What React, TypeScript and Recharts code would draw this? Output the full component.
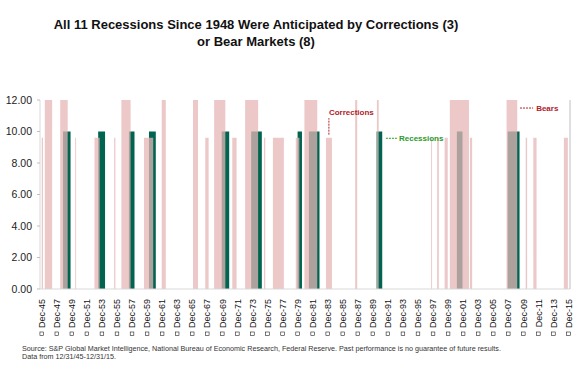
import { ComposedChart, Area, XAxis, YAxis, ReferenceLine } from 'recharts';

const FONT = '"Liberation Sans", Arial, sans-serif';

// episodes as [start, end] dates
const bearMarkets: [string, string][] = [
  ['1946-05-29', '1947-05-19'],
  ['1948-06-15', '1949-06-13'],
  ['1956-08-02', '1957-10-22'],
  ['1961-12-12', '1962-06-26'],
  ['1966-02-09', '1966-10-07'],
  ['1968-11-29', '1970-05-26'],
  ['1973-01-11', '1974-10-03'],
  ['1980-11-28', '1982-08-12'],
  ['1987-08-25', '1987-12-04'],
  ['1990-07-16', '1990-10-11'],
  ['2000-03-24', '2002-10-09'],
  ['2007-10-09', '2009-03-09'],
];

const corrections: [string, string][] = [
  ['1945-12-31', '1946-03-01'],
  ['1950-06-12', '1950-07-25'],
  ['1953-01-05', '1953-09-14'],
  ['1955-08-15', '1955-10-15'],
  ['1959-08-03', '1960-10-25'],
  ['1967-09-25', '1968-03-05'],
  ['1971-04-28', '1971-11-23'],
  ['1975-07-15', '1975-09-16'],
  ['1976-09-21', '1978-03-06'],
  ['1979-10-05', '1980-03-27'],
  ['1983-10-10', '1984-07-24'],
  ['1997-10-01', '1997-11-15'],
  ['1998-07-17', '1998-10-08'],
  ['1999-07-16', '1999-12-15'],
  ['2002-11-27', '2003-03-11'],
  ['2010-04-23', '2010-07-02'],
  ['2011-04-29', '2011-10-03'],
  ['2015-05-21', '2015-12-01'],
];

const recessions: [string, string][] = [
  ['1948-11-01', '1949-10-31'],
  ['1953-07-01', '1954-05-31'],
  ['1957-08-01', '1958-04-30'],
  ['1960-04-01', '1961-02-28'],
  ['1969-12-01', '1970-11-30'],
  ['1973-11-01', '1975-03-31'],
  ['1980-01-01', '1980-07-31'],
  ['1981-07-01', '1982-11-30'],
  ['1990-07-01', '1991-03-31'],
  ['2001-03-01', '2001-11-30'],
  ['2007-12-01', '2009-06-30'],
];

const BEAR_LEVEL = 12;
const RECESSION_LEVEL = 10;
const CORRECTION_LEVEL = 9.6;

const tickYears = [
  1946, 1948, 1950, 1952, 1954, 1956, 1958, 1960, 1962, 1964, 1966, 1968, 1970, 1972, 1974, 1976, 1978, 1980,
  1982, 1984, 1986, 1988, 1990, 1992, 1994, 1996, 1998, 2000, 2002, 2004, 2006, 2008, 2010, 2012, 2014, 2016,
];
const tickLabels = [
  'Dec-45', 'Dec-47', 'Dec-49', 'Dec-51', 'Dec-53', 'Dec-55', 'Dec-57', 'Dec-59', 'Dec-61', 'Dec-63',
  'Dec-65', 'Dec-67', 'Dec-69', 'Dec-71', 'Dec-73', 'Dec-75', 'Dec-77', 'Dec-79', 'Dec-81', 'Dec-83',
  'Dec-85', 'Dec-87', 'Dec-89', 'Dec-91', 'Dec-93', 'Dec-95', 'Dec-97', 'Dec-99', 'Dec-01', 'Dec-03',
  'Dec-05', 'Dec-07', 'Dec-09', 'Dec-11', 'Dec-13', 'Dec-15',
];
const yTicks = [0, 2, 4, 6, 8, 10, 12];
const rightTicks = [0, 0.1, 0.2, 0.3, 0.4, 0.5, 0.6, 0.7, 0.8, 0.9, 1];

const X_MIN = 1945.77;
const X_MAX = 2016.2;

const toYear = (d: string) => {
  const [y, m, day] = d.split('-').map(Number);
  return y + (m - 1) / 12 + (day - 1) / 365;
};

const toSteps = (eps: [string, string][], level: number) => [
  { x: X_MIN, v: 0 },
  ...eps.flatMap(([s, e]) => [
    { x: toYear(s), v: level },
    { x: toYear(e), v: 0 },
  ]),
  { x: X_MAX, v: 0 },
];

const recessionData = toSteps(recessions, RECESSION_LEVEL);
const correctionData = toSteps(corrections, CORRECTION_LEVEL);
const bearData = toSteps(bearMarkets, BEAR_LEVEL);

const XTick = (props: any) => {
  const { x, y, payload } = props;
  const label = tickLabels[tickYears.indexOf(payload.value)] ?? '';
  return (
    <g transform={`translate(${x},${y})`}>
      <text transform="rotate(-90)" x={-2} y={3.2} textAnchor="end" fontSize={9} fill="#111" fontFamily={FONT}>
        {label}
      </text>
      <rect x={-1.8} y={35} width={3.6} height={3.6} fill="none" stroke="#222" strokeWidth={0.6} />
    </g>
  );
};

const note = (text: string, color: string, dx: number, dy: number, anchorAtEnd: boolean) => (p: any) => (
  <g>
    <line x1={p.x1} y1={p.y1} x2={p.x2} y2={p.y2} stroke={color} strokeWidth={1} strokeDasharray="2 1" />
    <text
      x={(anchorAtEnd ? p.x2 : p.x1) + dx}
      y={Math.min(p.y1, p.y2) + dy}
      fill={color}
      fontSize={8}
      fontWeight="bold"
      fontFamily={FONT}
    >
      {text}
    </text>
  </g>
);

export default function App() {
  return (
    <div style={{ position: 'absolute', left: 0, top: 0, width: 583, height: 372, background: '#fff', fontFamily: FONT }}>
      <div
        style={{
          position: 'absolute',
          left: 0,
          top: 16,
          width: 512,
          textAlign: 'center',
          fontSize: 13,
          lineHeight: '17px',
          fontWeight: 'bold',
          color: '#111',
        }}
      >
        All 11 Recessions Since 1948 Were Anticipated by Corrections (3)
        <br />
        or Bear Markets (8)
      </div>
      <ComposedChart width={583} height={372} margin={{ top: 100, right: 13, bottom: 43, left: 6 }}>
        <XAxis
          dataKey="x"
          type="number"
          domain={[X_MIN, X_MAX]}
          allowDataOverflow
          ticks={tickYears}
          interval={0}
          tick={<XTick />}
          tickLine={false}
          axisLine={{ stroke: '#d9d9d9' }}
          height={40}
        />
        <YAxis
          yAxisId="left"
          domain={[0, 12]}
          ticks={yTicks}
          tickFormatter={(v: number) => v.toFixed(2)}
          tick={{ fontSize: 10.5, fill: '#222', fontFamily: FONT }}
          tickSize={3}
          tickMargin={5}
          tickLine={{ stroke: '#bfbfbf' }}
          axisLine={{ stroke: '#d9d9d9' }}
          width={34}
        />
        <YAxis
          yAxisId="right"
          orientation="right"
          domain={[0, 1]}
          ticks={rightTicks}
          tick={false}
          mirror
          tickSize={3}
          tickLine={{ stroke: '#bfbfbf' }}
          axisLine={{ stroke: '#bfbfbf' }}
          width={1}
        />
        <Area
          yAxisId="left"
          data={recessionData}
          dataKey="v"
          type="stepAfter"
          fill="#006450"
          fillOpacity={1}
          stroke="none"
          isAnimationActive={false}
          dot={false}
          activeDot={false}
        />
        <Area
          yAxisId="left"
          data={correctionData}
          dataKey="v"
          type="stepAfter"
          fill="#e6b5b5"
          fillOpacity={0.75}
          stroke="none"
          isAnimationActive={false}
          dot={false}
          activeDot={false}
        />
        <Area
          yAxisId="left"
          data={bearData}
          dataKey="v"
          type="stepAfter"
          fill="#e6b5b5"
          fillOpacity={0.75}
          stroke="none"
          isAnimationActive={false}
          dot={false}
          activeDot={false}
        />
        <ReferenceLine
          yAxisId="left"
          segment={[{ x: 1984.16, y: 9.8 }, { x: 1984.16, y: 10.85 }]}
          shape={note('Corrections', '#b0202a', 0, -3, false)}
        />
        <ReferenceLine
          yAxisId="left"
          segment={[{ x: 1991.74, y: 9.57 }, { x: 1993.34, y: 9.57 }]}
          shape={note('Recessions', '#2a9a2a', 1, 3, true)}
        />
        <ReferenceLine
          yAxisId="left"
          segment={[{ x: 2009.56, y: 11.49 }, { x: 2011.3, y: 11.49 }]}
          shape={note('Bears', '#b0202a', 3, 3, true)}
        />
      </ComposedChart>
      <div
        style={{
          position: 'absolute',
          left: 22,
          top: 344.8,
          fontSize: 7.2,
          lineHeight: '8.5px',
          color: '#333',
          whiteSpace: 'nowrap',
        }}
      >
        Source: S&amp;P Global Market Intelligence, National Bureau of Economic Research, Federal Reserve. Past performance
        is no guarantee of future results.
        <br />
        Data from 12/31/45-12/31/15.
      </div>
    </div>
  );
}
